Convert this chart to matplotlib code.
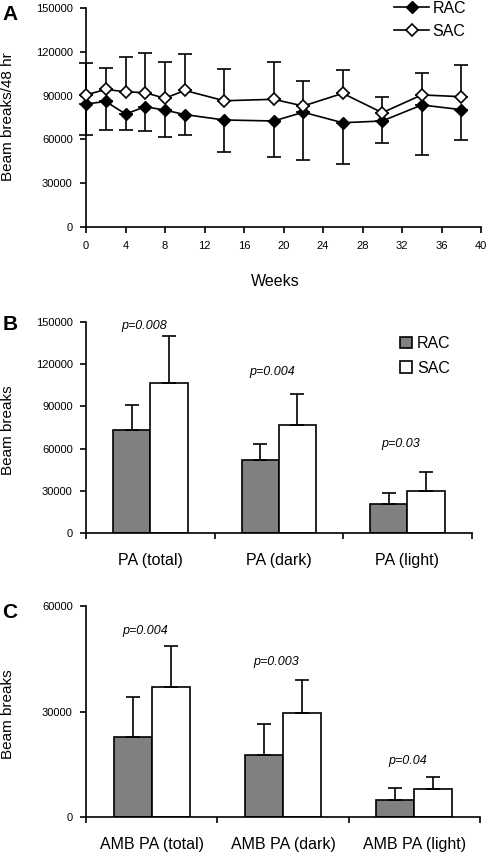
import numpy as np
import matplotlib
matplotlib.use("Agg")
import matplotlib.pyplot as plt

plt.rcParams['font.family'] = ['Liberation Sans', 'DejaVu Sans']

# panel A - weekly beam breaks
weeks = [0, 2, 4, 6, 8, 10, 14, 19, 22, 26, 30, 34, 38]
rac_mean = [84300, 86000, 77400, 82400, 80100, 77000, 73300, 72600, 78600, 71400, 72600, 83600, 80400]
rac_low = [63000, 66400, 66400, 65700, 61800, 63100, 51300, 47600, 45800, 43100, 57700, 49200, 59500]
sac_mean = [90500, 94300, 92700, 92000, 88200, 93600, 86500, 87500, 82900, 91600, 78300, 90500, 89300]
sac_high = [112600, 109200, 116300, 119500, 113100, 118800, 108300, 113100, 99900, 107600, 88900, 105800, 110800]

# panel B - total beam breaks
b_cats = ['PA (total)', 'PA (dark)', 'PA (light)']
b_rac = [73200, 52000, 20600]
b_rac_err = [17700, 11100, 7700]
b_sac = [106300, 76500, 30000]
b_sac_err = [33800, 22000, 13700]
b_p = ['p=0.008', 'p=0.004', 'p=0.03']

# panel C - ambulatory beam breaks
c_cats = ['AMB PA (total)', 'AMB PA (dark)', 'AMB PA (light)']
c_rac = [22800, 17700, 4800]
c_rac_err = [11400, 8700, 3400]
c_sac = [37000, 29500, 7900]
c_sac_err = [11600, 9300, 3400]
c_p = ['p=0.004', 'p=0.003', 'p=0.04']

W, H = 488, 852
fig = plt.figure(figsize=(W / 100, H / 100), dpi=100)


def box(left, top, right, bottom):
    return [left / W, 1 - bottom / H, (right - left) / W, (bottom - top) / H]


def style(ax):
    for s in ['top', 'right']:
        ax.spines[s].set_visible(False)
    for s in ['left', 'bottom']:
        ax.spines[s].set_linewidth(1.2)
    ax.tick_params(axis='both', direction='out', length=4, width=1.2, labelsize=8)
    ax.tick_params(axis='y', pad=5.5)


# ---- A ----
axA = fig.add_axes(box(86, 8.3, 481, 226.7))
style(axA)
axA.errorbar(weeks, rac_mean, yerr=[np.array(rac_mean) - np.array(rac_low), np.zeros(len(weeks))],
             color='black', marker='D', ms=6, mfc='black', mec='black', lw=1.2,
             elinewidth=1.2, capsize=5, capthick=1.2, label='RAC', clip_on=False, zorder=3)
axA.errorbar(weeks, sac_mean, yerr=[np.zeros(len(weeks)), np.array(sac_high) - np.array(sac_mean)],
             color='black', marker='D', ms=6, mfc='white', mec='black', mew=1.2, lw=1.2,
             elinewidth=1.2, capsize=5, capthick=1.2, label='SAC', clip_on=False, zorder=4)
axA.set_xlim(0, 40)
axA.set_ylim(0, 150000)
axA.set_xticks(np.arange(0, 41, 4))
axA.set_yticks(np.arange(0, 150001, 30000))
axA.tick_params(axis='x', pad=6)
handles, labels = axA.get_legend_handles_labels()
handles = [h[0] for h in handles]
axA.legend(handles, labels, loc='upper left', bbox_to_anchor=(394 / W, 1 - 1 / H),
           bbox_transform=fig.transFigure, frameon=False, fontsize=11.5,
           handlelength=2.2, handletextpad=0.2, labelspacing=0.5, borderpad=0, borderaxespad=0)
fig.text(275 / W, 1 - 282 / H, 'Weeks', ha='center', va='center', fontsize=11.5)
fig.text(8 / W, 1 - 117 / H, 'Beam breaks/48 hr', rotation=90, ha='center', va='center', fontsize=11)
fig.text(10 / W, 1 - 14 / H, 'A', ha='center', va='center', fontsize=15, fontweight='bold')


def bar_panel(ax, cats, rac, rac_err, sac, sac_err, pvals, ptops, ymax, step):
    style(ax)
    x = np.arange(len(cats)) + 0.5
    w = 0.29
    err_kw = dict(elinewidth=1.2, capsize=5, capthick=1.2, ecolor='black')
    ax.bar(x - w / 2, rac, w, color='#808080', edgecolor='black', linewidth=1.2,
           yerr=[np.zeros(3), rac_err], error_kw=err_kw, label='RAC')
    ax.bar(x + w / 2, sac, w, color='white', edgecolor='black', linewidth=1.2,
           yerr=[np.zeros(3), sac_err], error_kw=err_kw, label='SAC')
    ax.set_xlim(0, 3)
    ax.set_ylim(0, ymax)
    ax.set_yticks(np.arange(0, ymax + 1, step))
    ax.set_xticks([0, 1, 2, 3])
    ax.set_xticklabels([])
    ax.set_xticks(x, minor=True)
    ax.set_xticklabels(cats, minor=True, fontsize=11.5)
    ax.tick_params(axis='x', which='minor', length=0, pad=14)
    for xi, p, yp in zip(x, pvals, ptops):
        ax.text(xi - 0.05, yp, p, ha='center', va='center', fontsize=9, style='italic')


# ---- B ----
axB = fig.add_axes(box(86, 321.7, 471.7, 533.3))
bar_panel(axB, b_cats, b_rac, b_rac_err, b_sac, b_sac_err, b_p, [147000, 114000, 63000], 150000, 30000)
axB.legend(loc='upper left', bbox_to_anchor=(400 / W, 1 - 336 / H), bbox_transform=fig.transFigure,
           frameon=False, fontsize=11.5, handlelength=0.75, handleheight=0.75,
           handletextpad=0.3, labelspacing=0.6, borderpad=0, borderaxespad=0)
fig.text(8 / W, 1 - 430 / H, 'Beam breaks', rotation=90, ha='center', va='center', fontsize=11)
fig.text(10 / W, 1 - 325 / H, 'B', ha='center', va='center', fontsize=15, fontweight='bold')

# ---- C ----
axC = fig.add_axes(box(86, 605.7, 480, 817.3))
bar_panel(axC, c_cats, c_rac, c_rac_err, c_sac, c_sac_err, c_p, [52700, 43900, 16100], 60000, 30000)
fig.text(8 / W, 1 - 714 / H, 'Beam breaks', rotation=90, ha='center', va='center', fontsize=11)
fig.text(10 / W, 1 - 612 / H, 'C', ha='center', va='center', fontsize=15, fontweight='bold')

fig.savefig('out.png', dpi=100)
